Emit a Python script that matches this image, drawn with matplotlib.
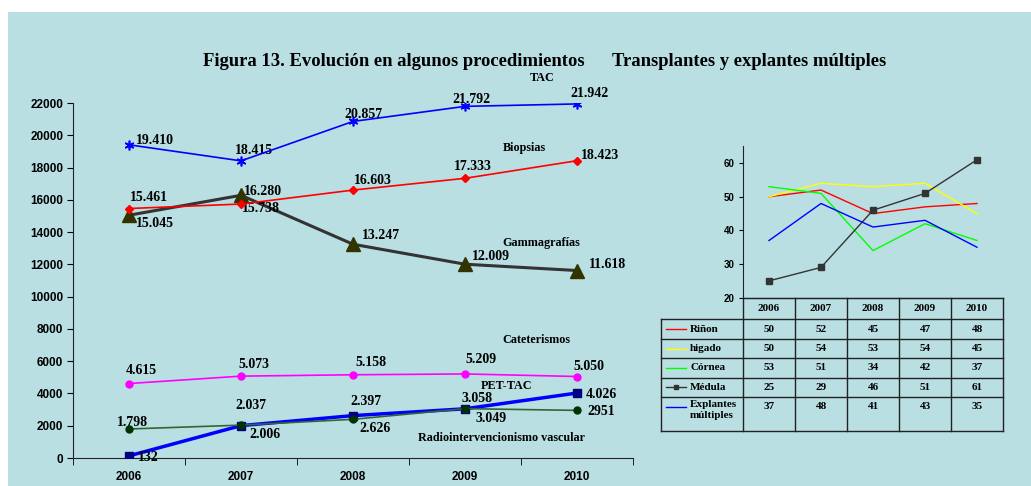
import matplotlib.pyplot as plt
from matplotlib.patches import Rectangle
from matplotlib.lines import Line2D
from matplotlib.transforms import blended_transform_factory

# ---- data: left chart (procedimientos) ----
years = ["2006", "2007", "2008", "2009", "2010"]
tac = [19410, 18415, 20857, 21792, 21942]
biopsias = [15461, 15738, 16603, 17333, 18423]
gamma = [15045, 16280, 13247, 12009, 11618]
cateter = [4615, 5073, 5158, 5209, 5050]
pet_tac = [132, 2006, 2626, 3049, 4026]
radio_vasc = [1798, 2037, 2397, 3058, 2951]

# value labels as printed in the source
tac_lbl = ["19.410", "18.415", "20.857", "21.792", "21.942"]
biop_lbl = ["15.461", "15.738", "16.603", "17.333", "18.423"]
gamma_lbl = ["15.045", "16.280", "13.247", "12.009", "11.618"]
cat_lbl = ["4.615", "5.073", "5.158", "5.209", "5.050"]
pet_lbl = ["132", "2.006", "2.626", "3.049", "4.026"]
radio_lbl = ["1.798", "2.037", "2.397", "3.058", "2951"]

# ---- data: right chart (transplantes y explantes) ----
organs = ["Riñon", "higado", "Córnea", "Médula", "Explantes\nmúltiples"]
rinon = [50, 52, 45, 47, 48]
higado = [50, 54, 53, 54, 45]
cornea = [53, 51, 34, 42, 37]
medula = [25, 29, 46, 51, 61]
explantes = [37, 48, 41, 43, 35]

BG = "#B9DFE2"
SERIF = "Liberation Serif"
SANS = "Liberation Sans"

fig = plt.figure(figsize=(10.31, 4.86), dpi=100)
fig.patch.set_facecolor("white")
fig.patches.append(Rectangle((8 / 1031, 0), 1, 1 - 12 / 486, transform=fig.transFigure,
                             facecolor=BG, edgecolor="none", zorder=-10))

fig.text(0.528, 1 - 61 / 486,
         "Figura 13. Evolución en algunos procedimientos      Transplantes y explantes múltiples",
         ha="center", va="center", fontsize=13.4, fontweight="bold", family=SERIF)

# ---------------- left chart ----------------
ax = fig.add_axes([73 / 1031, 1 - 458 / 486, 560 / 1031, 355 / 486])
ax.set_facecolor("none")
x = list(range(len(years)))

ax.plot(x, tac, color="#0000FF", lw=1.2, marker=(6, 2, 0), ms=7, mew=1.2, zorder=4)
ax.plot(x, biopsias, color="#FF0000", lw=1.2, marker="D", ms=4, zorder=4)
ax.plot(x, gamma, color="#333333", lw=2.2, marker="^", ms=10, mfc="#333300", mec="#333300", zorder=3)
ax.plot(x, cateter, color="#FF00FF", lw=1.2, marker="o", ms=5, zorder=4)
ax.plot(x, radio_vasc, color="#336633", lw=1.2, marker="o", ms=5, mfc="#003300", mec="#003300", zorder=4)
ax.plot(x, pet_tac, color="#0000FF", lw=2.5, marker="s", ms=6, mfc="#000080", mec="#000080", zorder=3)

ax.set_xlim(-0.5, 4.5)
ax.set_ylim(0, 22000)
ax.set_yticks(range(0, 22001, 2000))
ax.set_xticks(x)
ax.set_xticklabels(years)
ax.set_xticks([i - 0.5 for i in range(len(years) + 1)], minor=True)
ax.tick_params(axis="x", which="major", length=0, pad=9)
ax.tick_params(axis="x", which="minor", length=5, direction="out")
ax.tick_params(axis="y", length=4, direction="out", pad=3)
for lbl in ax.get_xticklabels() + ax.get_yticklabels():
    lbl.set_fontweight("bold")
    lbl.set_family(SANS)
    lbl.set_fontsize(8.5)
for s in ["top", "right"]:
    ax.spines[s].set_visible(False)
for s in ["left", "bottom"]:
    ax.spines[s].set_color("#222222")


# value labels: (dx, dy) offsets in pixels, left edge / vertical centre of the text
def label_series(vals, texts, offsets):
    for i, (v, t, (dx, dy)) in enumerate(zip(vals, texts, offsets)):
        ax.annotate(t, (i, v), xytext=(dx * 0.72, dy * 0.72), textcoords="offset points",
                    ha="left", va="center", fontsize=10, fontweight="bold", family=SERIF)


label_series(tac, tac_lbl, [(6.7, 4.3), (-6, 10.7), (-8.3, 6.7), (-12.5, 6.7), (-7, 10.7)])
label_series(biopsias, biop_lbl, [(1.3, 10.7), (1.3, -4), (0.7, 10), (-11.5, 11.7), (4, 5)])
label_series(gamma, gamma_lbl, [(6.7, -8.3), (3, 4.3), (8.7, 8.4), (7, 7.7), (11.6, 5.7)])
label_series(cateter, cat_lbl, [(-3.7, 12.6), (-2.4, 11.7), (2.7, 12), (0, 14.3), (-3.3, 10.3)])
label_series(radio_vasc, radio_lbl, [(-12, 6), (-5.3, 19.3), (-2.5, 18.3), (-3.7, 10.3), (10, -1)])
label_series(pet_tac, pet_lbl, [(9.3, -2), (8, -9), (6.7, -12.6), (10, -9.3), (9, -1.6)])

series_names = [("TAC", 3.69, 23550), ("Biopsias", 3.53, 19190), ("Gammagrafías", 3.68, 13300),
                ("Cateterismos", 3.64, 7310), ("PET-TAC", 3.37, 4480),
                ("Radiointervencionismo vascular", 3.33, 1220)]
for name, nx, ny in series_names:
    ax.text(nx, ny, name, ha="center", va="center", fontsize=8.7, fontweight="bold",
            family=SERIF, clip_on=False)

# ---------------- right chart ----------------
ax2 = fig.add_axes([743 / 1031, 1 - 297.7 / 486, 260 / 1031, 151.4 / 486])
ax2.set_facecolor("none")
right_series = [(rinon, "#FF0000", None), (higado, "#FFFF00", None), (cornea, "#00FF00", None),
                (medula, "#333333", "s"), (explantes, "#0000FF", None)]
for vals, col, mk in right_series:
    ax2.plot(x, vals, color=col, lw=1.0, marker=mk, ms=4)
ax2.set_xlim(-0.5, 4.5)
ax2.set_ylim(20, 65)
ax2.set_yticks([20, 30, 40, 50, 60])
ax2.set_xticks([])
ax2.tick_params(axis="y", length=3, direction="out", pad=3)
for lbl in ax2.get_yticklabels():
    lbl.set_fontweight("bold")
    lbl.set_family(SANS)
    lbl.set_fontsize(7)
for s in ["top", "right"]:
    ax2.spines[s].set_visible(False)
for s in ["left", "bottom"]:
    ax2.spines[s].set_color("#222222")

# data table under the right chart
tr = blended_transform_factory(ax2.transData, ax2.transAxes)
row_edges = [0.0, -0.141, -0.275, -0.400, -0.528, -0.656, -0.879]
left_x = -2.077
lc = "#222222"
# horizontal rules
for k, ry in enumerate(row_edges):
    x0 = -0.5 if k == 0 else left_x
    fig.add_artist(Line2D([x0, 4.5], [ry, ry], transform=tr, color=lc, lw=1.0, clip_on=False))
# vertical rules
for cx in [i - 0.5 for i in range(len(years) + 1)]:
    fig.add_artist(Line2D([cx, cx], [0, row_edges[-1]], transform=tr, color=lc, lw=1.0, clip_on=False))
fig.add_artist(Line2D([left_x, left_x], [row_edges[1], row_edges[-1]], transform=tr,
                      color=lc, lw=1.0, clip_on=False))

hy = (row_edges[0] + row_edges[1]) / 2
for i, yr in enumerate(years):
    ax2.text(i, hy, yr, transform=tr, ha="center", va="center", fontsize=8,
             fontweight="bold", family=SERIF, clip_on=False)

table_vals = [rinon, higado, cornea, medula, explantes]
for r, (name, vals, (_, col, mk)) in enumerate(zip(organs, table_vals, right_series)):
    top, bot = row_edges[r + 1], row_edges[r + 2]
    cy = (top + bot) / 2
    ty = top - 0.065 if "\n" in name else cy
    fig.add_artist(Line2D([left_x + 0.1, left_x + 0.48], [ty, ty], transform=tr, color=col,
                          lw=1.0, clip_on=False))
    if mk:
        fig.add_artist(Line2D([left_x + 0.29], [ty], transform=tr, color=col, lw=0,
                              marker=mk, ms=3, clip_on=False))
    va = "top" if "\n" in name else "center"
    tyy = top - 0.02 if "\n" in name else cy
    ax2.text(left_x + 0.56, tyy, name, transform=tr, ha="left", va=va, fontsize=8,
             fontweight="bold", family=SERIF, clip_on=False, linespacing=1.3)
    for i, v in enumerate(vals):
        ax2.text(i, ty, str(v), transform=tr, ha="center", va="center", fontsize=8,
                 fontweight="bold", family=SERIF, clip_on=False)

fig.savefig("out.png", dpi=100)
